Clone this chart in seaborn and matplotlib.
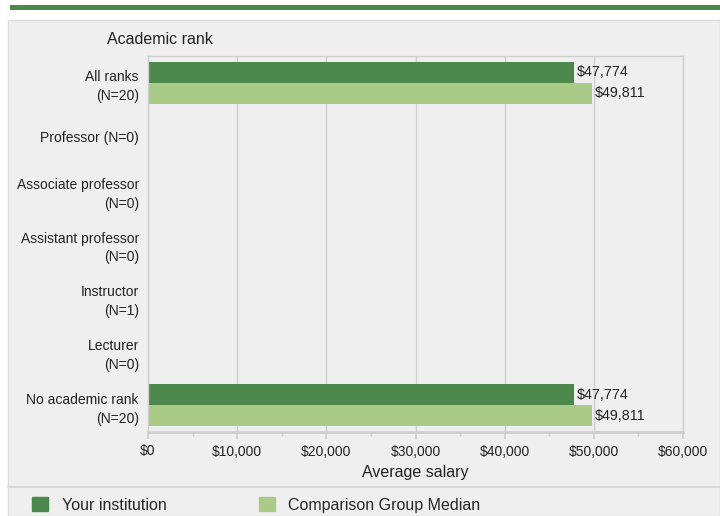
import numpy as np
import pandas as pd
import seaborn as sns
import matplotlib.pyplot as plt
from matplotlib.patches import Rectangle, Patch

## Data
ranks = ["All ranks\n(N=20)", "Professor (N=0)", "Associate professor\n(N=0)",
         "Assistant professor\n(N=0)", "Instructor\n(N=1)", "Lecturer\n(N=0)",
         "No academic rank\n(N=20)"]
your_institution = [47774, np.nan, np.nan, np.nan, np.nan, np.nan, 47774]
comparison_median = [49811, np.nan, np.nan, np.nan, np.nan, np.nan, 49811]
series = ["Your institution", "Comparison Group Median"]
x_ticks = [0, 10000, 20000, 30000, 40000, 50000, 60000]

dark_green = "#4c884c"
light_green = "#a9cb87"
panel_gray = "#efefef"
grid_gray = "#cfcfcf"

df = pd.DataFrame({
    "rank": ranks * 2,
    "salary": your_institution + comparison_median,
    "series": [series[0]] * len(ranks) + [series[1]] * len(ranks),
})

sns.set_theme(style="white")
plt.rcParams["font.family"] = ["Liberation Sans", "DejaVu Sans"]

fig = plt.figure(figsize=(7.2, 5.16), dpi=100)
fig.patch.set_facecolor("white")

# top green stripe and grey panel (drawn behind the axes)
fig.add_artist(Rectangle((10 / 720, 1 - 10 / 516), 710 / 720, 5 / 516,
                         transform=fig.transFigure, color=dark_green, lw=0,
                         zorder=-5))
fig.add_artist(Rectangle((8 / 720, 0), 712 / 720, 1 - 20 / 516,
                         transform=fig.transFigure, facecolor=panel_gray,
                         edgecolor="#dddddd", lw=1, zorder=-5))
fig.add_artist(plt.Line2D([8 / 720, 1], [1 - 487 / 516] * 2,
                          transform=fig.transFigure, color="#d8d8d8", lw=1.5,
                          zorder=-4))

ax = fig.add_axes([148 / 720, 1 - 432 / 516, 535 / 720, 376 / 516])
ax.set_facecolor(panel_gray)

sns.barplot(data=df, y="rank", x="salary", hue="series", order=ranks,
            hue_order=series, palette=[dark_green, light_green],
            width=0.78, orient="h", ax=ax, legend=False, errorbar=None,
            saturation=1, linewidth=0)

for cont in ax.containers:
    ax.bar_label(cont, fmt=lambda v: "" if np.isnan(v) else f"${v:,.0f}",
                 padding=2, fontsize=10.3, color="#222222")

ax.set_xlim(0, 60000)
ax.set_xticks(x_ticks)
ax.set_xticklabels([f"${t:,.0f}" for t in x_ticks])
ax.set_xticks(np.arange(5000, 60000, 10000), minor=True)
ax.xaxis.grid(True, color=grid_gray, lw=1)
ax.set_axisbelow(True)
ax.tick_params(axis="x", which="major", bottom=True, length=5, color=grid_gray,
               labelsize=10, pad=4, labelcolor="#222222")
ax.tick_params(axis="x", which="minor", bottom=True, length=3, color=grid_gray)
ax.tick_params(axis="y", left=False, length=0, labelsize=10, pad=6.5,
               labelcolor="#222222")
for lab in ax.get_yticklabels():
    lab.set_multialignment("right")
    lab.set_linespacing(1.45)
for s in ax.spines.values():
    s.set_color(grid_gray)
    s.set_linewidth(1)
ax.spines["bottom"].set_linewidth(2)
ax.set_ylabel("")
ax.set_xlabel("Average salary", fontsize=11.5, labelpad=4.5, color="#222222")
fig.text(107 / 720, 1 - 40 / 516, "Academic rank", fontsize=11.5,
         va="center", ha="left", color="#222222")

handles = [Patch(color=dark_green), Patch(color=light_green)]
fig.legend(handles, series, loc="center left", bbox_to_anchor=(32 / 720, 1 - 505 / 516),
           ncol=2, frameon=False, fontsize=11.5, handlelength=1.0, handleheight=1.0,
           columnspacing=5.8, handletextpad=0.85, borderaxespad=0, borderpad=0)

fig.savefig("out.png", dpi=100)
